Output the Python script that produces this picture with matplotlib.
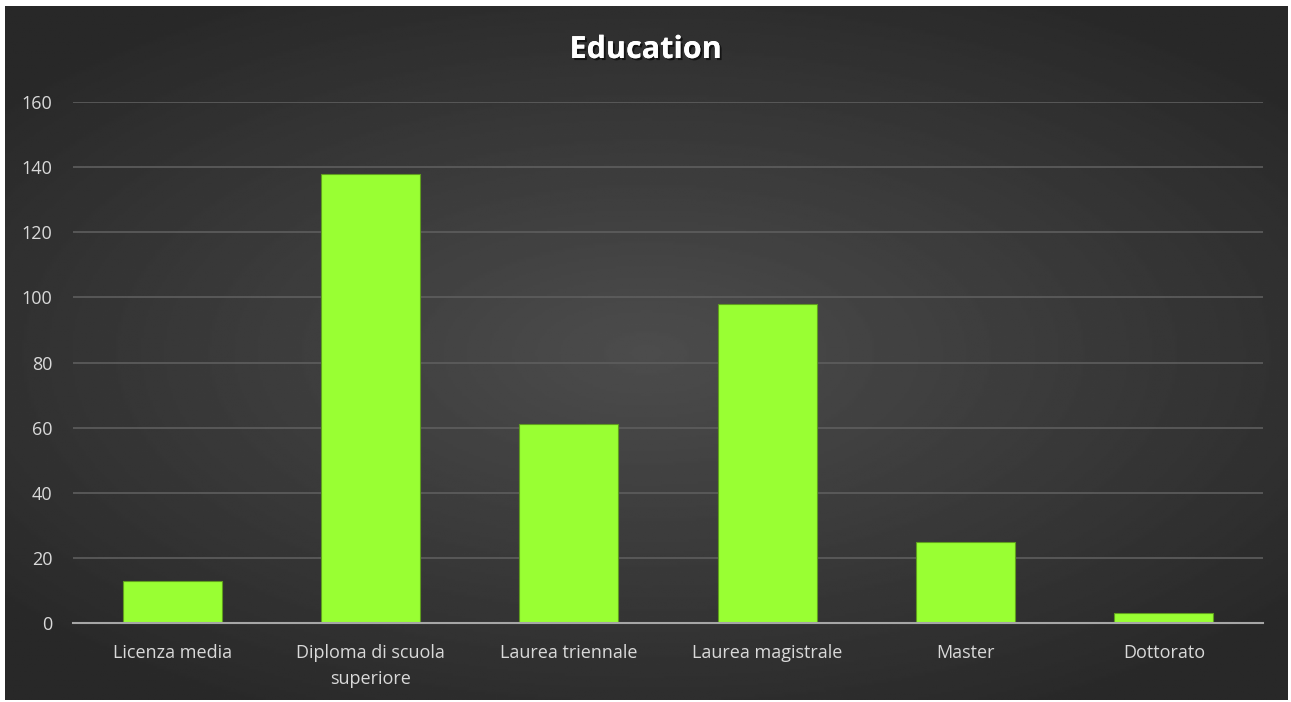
import numpy as np
import matplotlib.pyplot as plt
import matplotlib.patheffects as pe

plt.rcParams['font.family'] = ['Open Sans', 'DejaVu Sans']

categories = ['Licenza media', 'Diploma di scuola\nsuperiore', 'Laurea triennale',
              'Laurea magistrale', 'Master', 'Dottorato']
counts = [13, 138, 61, 98, 25, 3]
yticks = [0, 20, 40, 60, 80, 100, 120, 140, 160]

fig = plt.figure(figsize=(12.91, 7.02), dpi=100)
fig.patch.set_facecolor('white')

# dark background with a soft radial glow, inset inside a thin white border
bg = fig.add_axes([5 / 1291, 2 / 702, 1283 / 1291, 694 / 702])
yy, xx = np.mgrid[-1:1:300j, -1:1:560j]
r = np.sqrt((xx / 1.0) ** 2 + (yy / 0.9) ** 2)
shade = 0.30 - 0.14 * np.clip(r, 0, 1.3) / 1.3
bg.imshow(shade, cmap='gray', vmin=0, vmax=1, aspect='auto', extent=[0, 1, 0, 1])
bg.set_axis_off()

ax = fig.add_axes([73 / 1291, 1 - 623 / 702, 1190 / 1291, 521 / 702])
ax.patch.set_alpha(0)
x = np.arange(len(categories))
ax.bar(x, counts, width=0.5, color='#99ff33', edgecolor='#5f9e1e', linewidth=0.8, zorder=3)

ax.set_xlim(-0.5, len(categories) - 0.5)
ax.set_ylim(0, 160)
ax.set_yticks(yticks)
ax.set_xticks(x)
ax.set_xticklabels(categories, linespacing=1.55)
ax.tick_params(axis='both', length=0, colors='#d9d9d9', labelsize=13)
ax.tick_params(axis='x', pad=15)
ax.tick_params(axis='y', pad=15)
ax.grid(axis='y', color='#5e5e5e', linewidth=1.2, zorder=0)
for s in ['top', 'right', 'left']:
    ax.spines[s].set_visible(False)
ax.spines['bottom'].set_color('#a6a6a6')
ax.spines['bottom'].set_linewidth(1.5)
ax.spines['bottom'].set_zorder(4)

fig.text(0.5, 1 - 50 / 702, 'Education', ha='center', va='center', color='white',
         fontsize=22, fontweight='bold',
         path_effects=[pe.withSimplePatchShadow(offset=(1.5, -1.5), shadow_rgbFace='black', alpha=0.6),
                       pe.Normal()])

fig.savefig('out.png', dpi=100)
